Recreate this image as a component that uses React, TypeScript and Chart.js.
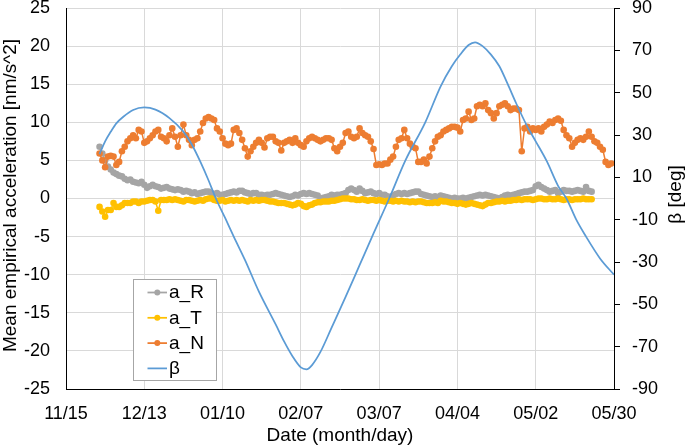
import React, { useEffect, useRef } from "react";
import { Chart, registerables } from "chart.js";
Chart.register(...registerables);

const xTickLabels = ["11/15", "12/13", "01/10", "02/07", "03/07", "04/04", "05/02", "05/30"];
const xTitle = "Date (month/day)";
const yTitle = "Mean empirical acceleration [nm/s^2]";
const y1Title = "β [deg]";

const firstDayRT = 12;
const aR = [
  6.8, 5.9, 5.0, 4.2, 3.8, 3.4, 3.2, 3.0, 2.9, 2.6,
  2.4, 2.5, 2.2, 2.1, 2.0, 2.2, 1.8, 1.4, 1.6, 1.8,
  1.6, 1.5, 1.3, 1.4, 1.5, 1.3, 1.2, 1.1, 1.2, 1.1,
  0.9, 1.0, 0.9, 0.7, 0.8, 0.6, 0.7, 0.8, 0.9, 0.9,
  0.7, 0.6, 0.7, 0.5, 0.5, 0.6, 0.7, 0.8, 0.9, 0.8,
  1.0, 1.0, 0.8, 0.7, 0.6, 0.7, 0.7, 0.5, 0.5, 0.4,
  0.5, 0.5, 0.6, 0.7, 0.6, 0.5, 0.4, 0.3, 0.2, 0.3,
  0.5, 0.4, 0.6, 0.7, 0.6, 0.7, 0.6, 0.5, 0.4, -0.2,
  0.1, 0.2, 0.3, 0.5, 0.4, 0.5, 0.5, 0.6, 0.7, 1.1,
  1.3, 1.1, 0.9, 1.3, 1.0, 0.7, 0.8, 0.9, 0.7, 0.6,
  0.7, 0.5, 0.5, 0.3, 0.2, 0.4, 0.6, 0.7, 0.6, 0.7,
  0.6, 0.7, 0.8, 0.9, 0.9, 0.6, 0.5, 0.4, 0.3, 0.2,
  0.3, 0.2, 0.4, 0.3, 0.2, 0.1, 0.0, 0.1, 0.0, 0.0,
  0.1, 0.0, 0.1, 0.2, 0.3, 0.4, 0.5, 0.4, 0.5, 0.4,
  0.3, 0.2, 0.1, 0.0, 0.2, 0.4, 0.5, 0.4, 0.5, 0.6,
  0.7, 0.8, 0.9, 0.9, 1.0, 1.1, 1.6, 1.8, 1.5, 1.3,
  1.1, 0.9, 1.0, 1.1, 0.7, 0.9, 1.1, 1.0, 1.0, 0.9,
  1.0, 1.1, 1.0, 0.9, 1.5, 1.0, 0.9,
];
const aT = [
  -1.1, -1.7, -2.4, -1.5, -1.5, -0.6, -1.1, -1.1, -0.9, -0.6,
  -0.6, -0.6, -0.4, -0.4, -0.6, -0.4, -0.4, -0.3, -0.2, -0.2,
  -0.4, -1.6, -0.2, -0.2, -0.2, -0.1, -0.2, -0.1, -0.2, -0.3,
  -0.4, -0.2, -0.2, -0.3, -0.4, -0.3, -0.2, -0.3, -0.1, 0.0,
  0.0, -0.2, -0.3, -0.3, -0.2, -0.4, -0.3, -0.2, -0.3, -0.2,
  -0.3, -0.2, -0.3, -0.4, -0.2, -0.3, -0.2, -0.3, -0.2, -0.2,
  -0.3, -0.4, -0.4, -0.5, -0.6, -0.6, -0.6, -0.7, -0.8, -0.9,
  -0.8, -0.6, -0.7, -1.0, -1.1, -0.9, -0.8, -0.6, -0.5, -0.5,
  -0.4, -0.4, -0.4, -0.3, -0.3, -0.2, -0.1, 0.0, 0.0, 0.0,
  -0.1, -0.1, -0.2, -0.2, -0.1, -0.2, -0.3, -0.2, -0.2, -0.3,
  -0.2, -0.3, -0.4, -0.3, -0.3, -0.4, -0.3, -0.4, -0.3, -0.4,
  -0.4, -0.5, -0.4, -0.5, -0.4, -0.4, -0.5, -0.6, -0.6, -0.6,
  -0.5, -0.6, -0.3, -0.4, -0.4, -0.5, -0.6, -0.6, -0.7, -0.6,
  -0.7, -0.8, -0.7, -0.6, -0.7, -0.8, -0.9, -1.0, -0.8, -0.6,
  -0.6, -0.5, -0.4, -0.4, -0.3, -0.4, -0.3, -0.3, -0.2, -0.2,
  -0.1, -0.2, -0.1, -0.1, -0.1, -0.2, -0.1, 0.0, 0.0, -0.1,
  -0.1, 0.0, -0.1, -0.1, 0.0, -0.1, -0.2, -0.1, -0.1, -0.2,
  -0.1, -0.1, -0.1, 0.0, -0.1, -0.1, -0.1,
];

const firstDayN = 12;
const aN = [
  5.9, 5.0, 4.1, 5.5, 5.6, 5.5, 4.4, 4.8, 6.2, 6.8,
  7.5, 7.9, 8.3, 7.9, 9.0, 8.8, 7.3, 7.5, 7.9, 8.3,
  8.8, 9.0, 8.1, 7.9, 7.5, 8.3, 9.2, 8.1, 6.8, 8.3,
  9.7, 8.3, 7.7, 7.0, 7.7, 7.9, 8.8, 9.9, 10.5, 10.7,
  10.5, 10.3, 9.2, 8.8, 7.9, 7.2, 7.0, 7.2, 9.0, 9.2,
  8.6, 7.7, 6.6, 5.5, 6.2, 6.8, 7.3, 7.7, 7.3, 6.7,
  7.9, 8.1, 8.1, 7.5, 7.3, 6.3, 7.3, 7.5, 7.7, 7.3,
  7.9, 7.3, 7.0, 6.8, 7.5, 7.9, 8.1, 7.9, 7.7, 7.5,
  7.7, 7.9, 7.9, 7.7, 6.6, 6.2, 6.8, 7.3, 8.6, 8.8,
  8.1, 7.9, 8.1, 9.2, 8.6, 8.3, 8.1, 7.5, 6.5, 4.4,
  4.5, 4.4, 4.6, 4.6, 5.1, 5.5, 6.8, 7.7, 7.9, 9.0,
  7.9, 7.2, 6.8, 6.6, 4.8, 4.8, 5.1, 4.6, 5.5, 6.6,
  7.5, 8.1, 8.3, 8.8, 9.0, 9.2, 9.4, 9.4, 9.3, 8.8,
  10.3, 10.5, 11.4, 10.3, 10.5, 12.1, 12.3, 12.1, 12.5, 11.6,
  11.2, 10.5, 11.2, 12.1, 12.3, 12.5, 12.1, 11.6, 11.8, 11.8,
  11.6, 6.2, 9.2, 9.4, 8.8, 9.2, 9.0, 9.2, 8.8, 9.4,
  9.7, 10.1, 9.9, 10.3, 10.5, 10.2, 9.0, 8.3, 7.9, 6.8,
  7.3, 7.7, 7.9, 7.7, 8.1, 8.8, 8.1, 7.5, 7.3, 6.8,
  6.4, 4.8, 4.4, 4.6,
];

const betaDays = [
  12, 14, 16, 18, 20.5, 24, 28, 32, 37, 42, 45, 48, 51, 53.6, 57, 60, 64, 69, 75, 78,
  81, 84, 86, 88, 91, 95, 100, 105, 110, 115.6, 121.4, 128.5, 134, 138, 141, 144, 146.3,
  149, 152, 155, 158, 161, 165, 168, 172, 176, 179, 182.5, 186, 191, 196,
];
const betaValues = [
  21, 27, 31.5, 35.5, 38.6, 41.8, 43, 42, 38, 31.6, 25.5, 17.5, 8.5, 0, -9.4, -18, -29, -44, -59.5, -67.5,
  -74.5, -79.8, -80.7, -78.7, -72.5, -61, -46.5, -31.5, -16.5, 0, 18, 36, 53, 62.5, 68, 72.5, 73.8,
  72, 68, 62.5, 54, 45, 34, 27, 17.5, 6, 0, -10, -18, -28.3, -36,
];

const FONT = '"Liberation Sans", Arial, sans-serif';
const C_R = "#A5A5A5";
const C_T = "#FFC000";
const C_N = "#ED7D31";
const C_B = "#5B9BD5";

export default function App() {
  const ref = useRef<HTMLCanvasElement>(null);
  useEffect(() => {
    document.body.style.margin = "0";
    const canvas = ref.current;
    if (!canvas) return;
    const toXY = (start: number, arr: number[]) => arr.map((v, i) => ({ x: start + i, y: v }));
    const tickFont = { family: FONT, size: 18 };

    const extras = {
      id: "extras",
      afterDraw(chart: any) {
        const ctx = chart.ctx;
        const area = chart.chartArea;
        const cy = (area.top + area.bottom) / 2;
        const cx = (area.left + area.right) / 2;
        ctx.save();
        ctx.font = `19px ${FONT}`;
        ctx.fillStyle = "#000";
        ctx.textAlign = "center";
        ctx.textBaseline = "middle";
        // x title
        ctx.fillText(xTitle, cx, 436);
        // left title
        ctx.save();
        ctx.translate(10.5, cy - 3);
        ctx.rotate(-Math.PI / 2);
        ctx.fillText(yTitle, 0, 0);
        ctx.restore();
        // right title
        ctx.save();
        ctx.translate(676, cy - 4);
        ctx.rotate(-Math.PI / 2);
        ctx.fillText(y1Title, 0, 0);
        ctx.restore();
        ctx.restore();

        // legend
        ctx.save();
        const bx = 133.5, by = 279.5, bw = 83, bh = 101;
        ctx.fillStyle = "#fff";
        ctx.fillRect(bx, by, bw, bh);
        ctx.strokeStyle = "#a6a6a6";
        ctx.lineWidth = 1;
        ctx.strokeRect(bx, by, bw, bh);
        const items = [
          { t: "a_R", c: C_R, p: true },
          { t: "a_T", c: C_T, p: true },
          { t: "a_N", c: C_N, p: true },
          { t: "β", c: C_B, p: false },
        ];
        ctx.font = `19px ${FONT}`;
        ctx.textBaseline = "middle";
        ctx.textAlign = "left";
        items.forEach((it, i) => {
          const y = 292.5 + i * 25.3;
          ctx.strokeStyle = it.c;
          ctx.lineWidth = 1.75;
          ctx.beginPath();
          ctx.moveTo(147.5, y);
          ctx.lineTo(167, y);
          ctx.stroke();
          if (it.p) {
            ctx.fillStyle = it.c;
            ctx.beginPath();
            ctx.arc(157.3, y, 3, 0, Math.PI * 2);
            ctx.fill();
          }
          ctx.fillStyle = "#000";
          ctx.fillText(it.t, 169, y + 0.5);
        });
        ctx.restore();
      },
    };

    const chart = new Chart(canvas, {
      type: "line",
      data: {
        datasets: [
          {
            label: "β",
            data: betaDays.map((d, i) => ({ x: d, y: betaValues[i] })),
            yAxisID: "y1",
            borderColor: C_B,
            backgroundColor: C_B,
            borderWidth: 1.75,
            pointRadius: 0,
            tension: 0.4,
            cubicInterpolationMode: "monotone",
            order: 0,
          },
          {
            label: "a_N",
            data: toXY(firstDayN, aN),
            yAxisID: "y",
            borderColor: C_N,
            backgroundColor: C_N,
            borderWidth: 1.5,
            pointRadius: 3.3,
            pointBorderWidth: 0,
            order: 1,
          },
          {
            label: "a_T",
            data: toXY(firstDayRT, aT),
            yAxisID: "y",
            borderColor: C_T,
            backgroundColor: C_T,
            borderWidth: 1.5,
            pointRadius: 3.3,
            pointBorderWidth: 0,
            order: 2,
          },
          {
            label: "a_R",
            data: toXY(firstDayRT, aR),
            yAxisID: "y",
            borderColor: C_R,
            backgroundColor: C_R,
            borderWidth: 1.5,
            pointRadius: 3.3,
            pointBorderWidth: 0,
            order: 3,
          },
        ],
      },
      options: {
        animation: false,
        responsive: false,
        layout: { autoPadding: false, padding: { top: 8, left: 0, right: 0, bottom: 0 } },
        plugins: { legend: { display: false }, tooltip: { enabled: false } },
        scales: {
          x: {
            type: "linear",
            min: 0,
            max: 196,
            ticks: {
              stepSize: 28,
              autoSkip: false,
              maxRotation: 0,
              padding: 14,
              font: tickFont,
              color: "#000",
              callback: (v: any) => xTickLabels[Math.round(Number(v) / 28)] ?? "",
            },
            grid: { color: "#d9d9d9", drawTicks: false, lineWidth: 1 },
            border: { color: "#000", width: 1 },
            afterFit: (s: any) => { s.height = 57; s.paddingLeft = 0; s.paddingRight = 0; },
          },
          y: {
            position: "left",
            min: -25,
            max: 25,
            ticks: { stepSize: 5, padding: 16, font: tickFont, color: "#000" },
            grid: { color: "#d9d9d9", drawTicks: false, lineWidth: 1 },
            border: { color: "#000", width: 1 },
            afterFit: (s: any) => { s.width = 66; s.paddingTop = 0; s.paddingBottom = 0; },
          },
          y1: {
            position: "right",
            min: -90,
            max: 90,
            ticks: { stepSize: 20, padding: 12, font: tickFont, color: "#000" },
            grid: { drawOnChartArea: false, drawTicks: true, tickLength: 6, color: "#000" },
            border: { color: "#000", width: 1 },
            afterFit: (s: any) => { s.width = 71; s.paddingTop = 0; s.paddingBottom = 0; },
          },
        },
      },
      plugins: [extras],
    } as any);
    return () => chart.destroy();
  }, []);
  return <canvas ref={ref} width={685} height={446} style={{ display: "block" }} />;
}
